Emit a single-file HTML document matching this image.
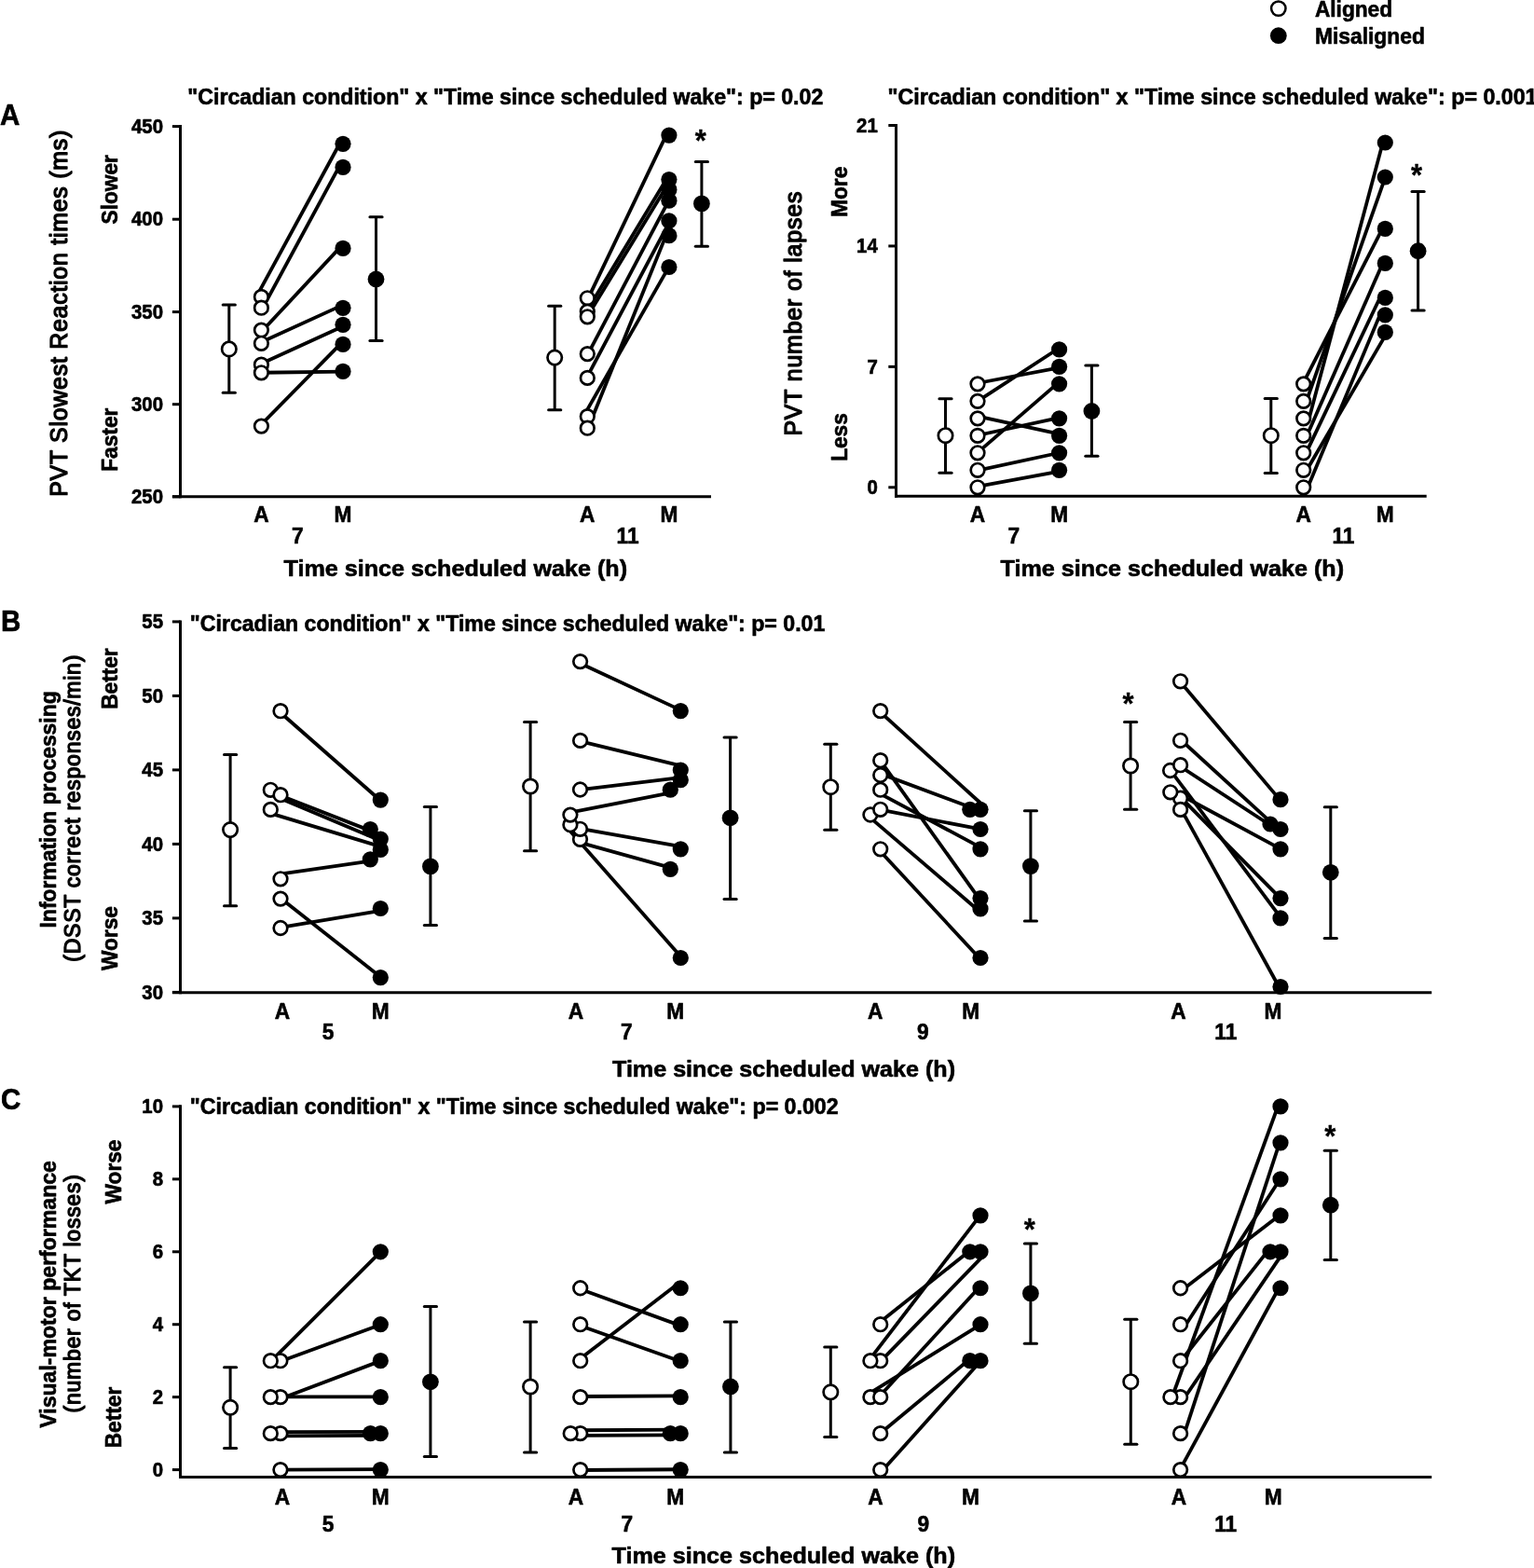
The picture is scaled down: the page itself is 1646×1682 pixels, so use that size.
<!DOCTYPE html>
<html lang="en">
<head>
<meta charset="utf-8">
<title>Figure: Circadian alignment and cognitive performance</title>
<style>
html,body{margin:0;padding:0;background:#fff;}
body{width:1646px;height:1682px;overflow:hidden;}
svg{display:block;}
svg text{font-family:"Liberation Sans",Arial,Helvetica,sans-serif;fill:#000;}
</style>
</head>
<body>
<svg xmlns="http://www.w3.org/2000/svg" width="1646" height="1682" viewBox="0 0 1646 1682" stroke="#000" fill="none">
<rect x="0" y="0" width="1646" height="1682" fill="#fff" stroke="none"/>
<circle cx="1371.8" cy="9.1" r="7.7" fill="#fff" stroke-width="2.5"/>
<circle cx="1371.8" cy="38.2" r="8.9" fill="#000" stroke="none"/>
<text transform="translate(1410.9 17.6) scale(1 1.06)" font-size="22.7" font-weight="bold" text-anchor="start" textLength="83.2" lengthAdjust="spacingAndGlyphs" stroke="#000" stroke-width="0.6" stroke-linejoin="round">Aligned</text>
<text transform="translate(1410.9 46.7) scale(1 1.06)" font-size="22.7" font-weight="bold" text-anchor="start" textLength="118" lengthAdjust="spacingAndGlyphs" stroke="#000" stroke-width="0.6" stroke-linejoin="round">Misaligned</text>
<text transform="translate(0 133.8) scale(1 1.06)" font-size="29.5" font-weight="bold" text-anchor="start" stroke="#000" stroke-width="0.6" stroke-linejoin="round">A</text>
<text transform="translate(201.3 111.6) scale(1 1.06)" font-size="22.7" font-weight="bold" text-anchor="start" textLength="682" lengthAdjust="spacingAndGlyphs" stroke="#000" stroke-width="0.6" stroke-linejoin="round">&quot;Circadian condition&quot; x &quot;Time since scheduled wake&quot;: p= 0.02</text>
<line x1="193.5" y1="134.1" x2="193.5" y2="534.3" stroke-width="3" stroke-linecap="butt"/>
<line x1="184.9" y1="532.8" x2="763" y2="532.8" stroke-width="3" stroke-linecap="butt"/>
<line x1="184.9" y1="135.6" x2="193.5" y2="135.6" stroke-width="3" stroke-linecap="butt"/>
<text transform="translate(175 142.8) scale(1 1.06)" font-size="20.4" font-weight="bold" text-anchor="end" stroke="#000" stroke-width="0.6" stroke-linejoin="round">450</text>
<line x1="184.9" y1="235.2" x2="193.5" y2="235.2" stroke-width="3" stroke-linecap="butt"/>
<text transform="translate(175 242.4) scale(1 1.06)" font-size="20.4" font-weight="bold" text-anchor="end" stroke="#000" stroke-width="0.6" stroke-linejoin="round">400</text>
<line x1="184.9" y1="334.6" x2="193.5" y2="334.6" stroke-width="3" stroke-linecap="butt"/>
<text transform="translate(175 341.8) scale(1 1.06)" font-size="20.4" font-weight="bold" text-anchor="end" stroke="#000" stroke-width="0.6" stroke-linejoin="round">350</text>
<line x1="184.9" y1="433.7" x2="193.5" y2="433.7" stroke-width="3" stroke-linecap="butt"/>
<text transform="translate(175 440.9) scale(1 1.06)" font-size="20.4" font-weight="bold" text-anchor="end" stroke="#000" stroke-width="0.6" stroke-linejoin="round">300</text>
<line x1="184.9" y1="532.8" x2="193.5" y2="532.8" stroke-width="3" stroke-linecap="butt"/>
<text transform="translate(175 540) scale(1 1.06)" font-size="20.4" font-weight="bold" text-anchor="end" stroke="#000" stroke-width="0.6" stroke-linejoin="round">250</text>
<text transform="translate(72.2 336.3) rotate(-90)" font-size="24.9" font-weight="normal" text-anchor="middle" textLength="393" lengthAdjust="spacing" stroke="#000" stroke-width="1.3" stroke-linejoin="round">PVT Slowest Reaction times (ms)</text>
<text transform="translate(126.2 203.3) rotate(-90) scale(1 1.06)" font-size="22.7" font-weight="bold" text-anchor="middle" stroke="#000" stroke-width="0.6" stroke-linejoin="round">Slower</text>
<text transform="translate(126.2 471.7) rotate(-90) scale(1 1.06)" font-size="22.7" font-weight="bold" text-anchor="middle" stroke="#000" stroke-width="0.6" stroke-linejoin="round">Faster</text>
<line x1="245.8" y1="327" x2="245.8" y2="421.2" stroke-width="3" stroke-linecap="butt"/>
<line x1="239.2" y1="327" x2="252.4" y2="327" stroke-width="3" stroke-linecap="round"/>
<line x1="239.2" y1="421.2" x2="252.4" y2="421.2" stroke-width="3" stroke-linecap="round"/>
<circle cx="245.8" cy="374.4" r="7.7" fill="#fff" stroke-width="2.7"/>
<line x1="403.5" y1="232.7" x2="403.5" y2="365.4" stroke-width="3" stroke-linecap="butt"/>
<line x1="396.9" y1="232.7" x2="410.1" y2="232.7" stroke-width="3" stroke-linecap="round"/>
<line x1="396.9" y1="365.4" x2="410.1" y2="365.4" stroke-width="3" stroke-linecap="round"/>
<circle cx="403.5" cy="299.5" r="8.9" fill="#000" stroke="none"/>
<line x1="276.31" y1="316.18" x2="365.2" y2="152.78" stroke-width="3.8" stroke-linecap="butt"/>
<line x1="281.61" y1="330.85" x2="364.56" y2="177.54" stroke-width="3.8" stroke-linecap="butt"/>
<line x1="281.35" y1="354.99" x2="365.87" y2="264.41" stroke-width="3.8" stroke-linecap="butt"/>
<line x1="279.88" y1="367.17" x2="366.78" y2="327.63" stroke-width="3.8" stroke-linecap="butt"/>
<line x1="279.97" y1="390.25" x2="368.66" y2="349.75" stroke-width="3.8" stroke-linecap="butt"/>
<line x1="280.4" y1="399.75" x2="368" y2="398.72" stroke-width="3.8" stroke-linecap="butt"/>
<line x1="279.51" y1="456.22" x2="366.43" y2="367.85" stroke-width="3.8" stroke-linecap="butt"/>
<circle cx="368" cy="154.3" r="8.6" fill="#000" stroke="none"/>
<circle cx="368" cy="179.4" r="8.6" fill="#000" stroke="none"/>
<circle cx="368" cy="266.4" r="8.6" fill="#000" stroke="none"/>
<circle cx="368" cy="330.3" r="8.6" fill="#000" stroke="none"/>
<circle cx="368" cy="348.3" r="8.6" fill="#000" stroke="none"/>
<circle cx="368" cy="369.4" r="8.6" fill="#000" stroke="none"/>
<circle cx="368" cy="398.4" r="8.6" fill="#000" stroke="none"/>
<circle cx="280.4" cy="318.4" r="7.3" fill="#fff" stroke-width="2.7"/>
<circle cx="280.4" cy="330.2" r="7.3" fill="#fff" stroke-width="2.7"/>
<circle cx="280.4" cy="354.1" r="7.3" fill="#fff" stroke-width="2.7"/>
<circle cx="280.4" cy="368.3" r="7.3" fill="#fff" stroke-width="2.7"/>
<circle cx="280.4" cy="391.2" r="7.3" fill="#fff" stroke-width="2.7"/>
<circle cx="280.4" cy="399.8" r="7.3" fill="#fff" stroke-width="2.7"/>
<circle cx="280.4" cy="457.1" r="7.3" fill="#fff" stroke-width="2.7"/>
<line x1="595.2" y1="328.3" x2="595.2" y2="439.7" stroke-width="3" stroke-linecap="butt"/>
<line x1="588.6" y1="328.3" x2="601.8" y2="328.3" stroke-width="3" stroke-linecap="round"/>
<line x1="588.6" y1="439.7" x2="601.8" y2="439.7" stroke-width="3" stroke-linecap="round"/>
<circle cx="595.2" cy="383.6" r="7.7" fill="#fff" stroke-width="2.7"/>
<line x1="752.9" y1="173.6" x2="752.9" y2="264.2" stroke-width="3" stroke-linecap="butt"/>
<line x1="746.3" y1="173.6" x2="759.5" y2="173.6" stroke-width="3" stroke-linecap="round"/>
<line x1="746.3" y1="264.2" x2="759.5" y2="264.2" stroke-width="3" stroke-linecap="round"/>
<circle cx="752.9" cy="218.4" r="8.9" fill="#000" stroke="none"/>
<line x1="631.06" y1="320.16" x2="715.39" y2="143.9" stroke-width="3.8" stroke-linecap="butt"/>
<line x1="629.59" y1="333.67" x2="715.71" y2="191.28" stroke-width="3.8" stroke-linecap="butt"/>
<line x1="630.04" y1="339.64" x2="714.47" y2="201.31" stroke-width="3.8" stroke-linecap="butt"/>
<line x1="630.85" y1="379.89" x2="717.61" y2="215.05" stroke-width="3.8" stroke-linecap="butt"/>
<line x1="629.59" y1="405.02" x2="718.71" y2="237.33" stroke-width="3.8" stroke-linecap="butt"/>
<line x1="627.07" y1="444.85" x2="717.71" y2="286.39" stroke-width="3.8" stroke-linecap="butt"/>
<line x1="630.92" y1="459.45" x2="715.04" y2="251.54" stroke-width="3.8" stroke-linecap="butt"/>
<circle cx="717.9" cy="145.1" r="8.6" fill="#000" stroke="none"/>
<circle cx="717.9" cy="192.6" r="8.6" fill="#000" stroke="none"/>
<circle cx="717.9" cy="203.4" r="8.6" fill="#000" stroke="none"/>
<circle cx="717.9" cy="215.2" r="8.6" fill="#000" stroke="none"/>
<circle cx="717.9" cy="236.9" r="8.6" fill="#000" stroke="none"/>
<circle cx="717.9" cy="252.7" r="8.6" fill="#000" stroke="none"/>
<circle cx="717.9" cy="286.5" r="8.6" fill="#000" stroke="none"/>
<circle cx="630.3" cy="319.8" r="7.3" fill="#fff" stroke-width="2.7"/>
<circle cx="630.3" cy="334.1" r="7.3" fill="#fff" stroke-width="2.7"/>
<circle cx="630.3" cy="339.8" r="7.3" fill="#fff" stroke-width="2.7"/>
<circle cx="630.3" cy="379.6" r="7.3" fill="#fff" stroke-width="2.7"/>
<circle cx="630.3" cy="405.4" r="7.3" fill="#fff" stroke-width="2.7"/>
<circle cx="630.3" cy="446.7" r="7.3" fill="#fff" stroke-width="2.7"/>
<circle cx="630.3" cy="459.2" r="7.3" fill="#fff" stroke-width="2.7"/>
<text transform="translate(751.7 162) scale(1 1.06)" font-size="31" font-weight="bold" text-anchor="middle" stroke="#000" stroke-width="0.3" stroke-linejoin="round">*</text>
<text transform="translate(280.5 559.5) scale(1 1.06)" font-size="22.7" font-weight="bold" text-anchor="middle" stroke="#000" stroke-width="0.6" stroke-linejoin="round">A</text>
<text transform="translate(368 559.5) scale(1 1.06)" font-size="22.7" font-weight="bold" text-anchor="middle" stroke="#000" stroke-width="0.6" stroke-linejoin="round">M</text>
<text transform="translate(630.3 559.5) scale(1 1.06)" font-size="22.7" font-weight="bold" text-anchor="middle" stroke="#000" stroke-width="0.6" stroke-linejoin="round">A</text>
<text transform="translate(717.9 559.5) scale(1 1.06)" font-size="22.7" font-weight="bold" text-anchor="middle" stroke="#000" stroke-width="0.6" stroke-linejoin="round">M</text>
<text transform="translate(319.2 582.9) scale(1 1.06)" font-size="22.7" font-weight="bold" text-anchor="middle" stroke="#000" stroke-width="0.6" stroke-linejoin="round">7</text>
<text transform="translate(673.6 582.9) scale(1 1.06)" font-size="22.7" font-weight="bold" text-anchor="middle" stroke="#000" stroke-width="0.6" stroke-linejoin="round">11</text>
<text transform="translate(488.8 617.9) scale(1 1.06)" font-size="23.4" font-weight="bold" text-anchor="middle" textLength="368.5" lengthAdjust="spacingAndGlyphs" stroke="#000" stroke-width="0.6" stroke-linejoin="round">Time since scheduled wake (h)</text>
<text transform="translate(952.5 111.6) scale(1 1.06)" font-size="22.7" font-weight="bold" text-anchor="start" textLength="697" lengthAdjust="spacingAndGlyphs" stroke="#000" stroke-width="0.6" stroke-linejoin="round">&quot;Circadian condition&quot; x &quot;Time since scheduled wake&quot;: p= 0.001</text>
<line x1="961.5" y1="133.1" x2="961.5" y2="533.8" stroke-width="3" stroke-linecap="butt"/>
<line x1="960" y1="532.3" x2="1530.7" y2="532.3" stroke-width="3" stroke-linecap="butt"/>
<line x1="953.3" y1="134.51" x2="961.5" y2="134.51" stroke-width="3" stroke-linecap="butt"/>
<text transform="translate(941.8 141.71) scale(1 1.06)" font-size="20.4" font-weight="bold" text-anchor="end" stroke="#000" stroke-width="0.6" stroke-linejoin="round">21</text>
<line x1="953.3" y1="263.94" x2="961.5" y2="263.94" stroke-width="3" stroke-linecap="butt"/>
<text transform="translate(941.8 271.14) scale(1 1.06)" font-size="20.4" font-weight="bold" text-anchor="end" stroke="#000" stroke-width="0.6" stroke-linejoin="round">14</text>
<line x1="953.3" y1="393.37" x2="961.5" y2="393.37" stroke-width="3" stroke-linecap="butt"/>
<text transform="translate(941.8 400.57) scale(1 1.06)" font-size="20.4" font-weight="bold" text-anchor="end" stroke="#000" stroke-width="0.6" stroke-linejoin="round">7</text>
<line x1="953.3" y1="522.8" x2="961.5" y2="522.8" stroke-width="3" stroke-linecap="butt"/>
<text transform="translate(941.8 530) scale(1 1.06)" font-size="20.4" font-weight="bold" text-anchor="end" stroke="#000" stroke-width="0.6" stroke-linejoin="round">0</text>
<text transform="translate(859.9 336.6) rotate(-90)" font-size="24.9" font-weight="normal" text-anchor="middle" textLength="262" lengthAdjust="spacing" stroke="#000" stroke-width="1.3" stroke-linejoin="round">PVT number of lapses</text>
<text transform="translate(909.4 205.8) rotate(-90) scale(1 1.06)" font-size="22.7" font-weight="bold" text-anchor="middle" stroke="#000" stroke-width="0.6" stroke-linejoin="round">More</text>
<text transform="translate(909.4 469) rotate(-90) scale(1 1.06)" font-size="22.7" font-weight="bold" text-anchor="middle" stroke="#000" stroke-width="0.6" stroke-linejoin="round">Less</text>
<line x1="1014.5" y1="427.7" x2="1014.5" y2="507.3" stroke-width="3" stroke-linecap="butt"/>
<line x1="1007.9" y1="427.7" x2="1021.1" y2="427.7" stroke-width="3" stroke-linecap="round"/>
<line x1="1007.9" y1="507.3" x2="1021.1" y2="507.3" stroke-width="3" stroke-linecap="round"/>
<circle cx="1014.5" cy="467.2" r="7.7" fill="#fff" stroke-width="2.7"/>
<line x1="1171.4" y1="392.1" x2="1171.4" y2="489.3" stroke-width="3" stroke-linecap="butt"/>
<line x1="1164.8" y1="392.1" x2="1178" y2="392.1" stroke-width="3" stroke-linecap="round"/>
<line x1="1164.8" y1="489.3" x2="1178" y2="489.3" stroke-width="3" stroke-linecap="round"/>
<circle cx="1171.4" cy="441" r="8.9" fill="#000" stroke="none"/>
<line x1="1048.84" y1="411" x2="1136.78" y2="394.29" stroke-width="3.8" stroke-linecap="butt"/>
<line x1="1049.01" y1="430.37" x2="1135.87" y2="373.76" stroke-width="3.8" stroke-linecap="butt"/>
<line x1="1049.46" y1="446.7" x2="1136.99" y2="465.52" stroke-width="3.8" stroke-linecap="butt"/>
<line x1="1048.93" y1="467.01" x2="1136.46" y2="448.19" stroke-width="3.8" stroke-linecap="butt"/>
<line x1="1048.81" y1="485.61" x2="1135.52" y2="410.61" stroke-width="3.8" stroke-linecap="butt"/>
<line x1="1049.06" y1="504.58" x2="1136.59" y2="485.76" stroke-width="3.8" stroke-linecap="butt"/>
<line x1="1048.82" y1="521.82" x2="1136.85" y2="505.68" stroke-width="3.8" stroke-linecap="butt"/>
<circle cx="1136.6" cy="374.88" r="8.6" fill="#000" stroke="none"/>
<circle cx="1136.6" cy="393.37" r="8.6" fill="#000" stroke="none"/>
<circle cx="1136.6" cy="411.86" r="8.6" fill="#000" stroke="none"/>
<circle cx="1136.6" cy="448.84" r="8.6" fill="#000" stroke="none"/>
<circle cx="1136.6" cy="467.33" r="8.6" fill="#000" stroke="none"/>
<circle cx="1136.6" cy="485.82" r="8.6" fill="#000" stroke="none"/>
<circle cx="1136.6" cy="504.31" r="8.6" fill="#000" stroke="none"/>
<circle cx="1049" cy="411.86" r="7.3" fill="#fff" stroke-width="2.7"/>
<circle cx="1049" cy="430.35" r="7.3" fill="#fff" stroke-width="2.7"/>
<circle cx="1049" cy="448.84" r="7.3" fill="#fff" stroke-width="2.7"/>
<circle cx="1049" cy="467.33" r="7.3" fill="#fff" stroke-width="2.7"/>
<circle cx="1049" cy="485.82" r="7.3" fill="#fff" stroke-width="2.7"/>
<circle cx="1049" cy="504.31" r="7.3" fill="#fff" stroke-width="2.7"/>
<circle cx="1049" cy="522.8" r="7.3" fill="#fff" stroke-width="2.7"/>
<line x1="1363.8" y1="427.4" x2="1363.8" y2="507.5" stroke-width="3" stroke-linecap="butt"/>
<line x1="1357.2" y1="427.4" x2="1370.4" y2="427.4" stroke-width="3" stroke-linecap="round"/>
<line x1="1357.2" y1="507.5" x2="1370.4" y2="507.5" stroke-width="3" stroke-linecap="round"/>
<circle cx="1363.8" cy="467.2" r="7.7" fill="#fff" stroke-width="2.7"/>
<line x1="1521.6" y1="205.6" x2="1521.6" y2="332.9" stroke-width="3" stroke-linecap="butt"/>
<line x1="1515" y1="205.6" x2="1528.2" y2="205.6" stroke-width="3" stroke-linecap="round"/>
<line x1="1515" y1="332.9" x2="1528.2" y2="332.9" stroke-width="3" stroke-linecap="round"/>
<circle cx="1521.6" cy="269.2" r="8.9" fill="#000" stroke="none"/>
<line x1="1398.03" y1="411.52" x2="1483.9" y2="244.22" stroke-width="3.8" stroke-linecap="butt"/>
<line x1="1401.46" y1="431.32" x2="1486.43" y2="190.03" stroke-width="3.8" stroke-linecap="butt"/>
<line x1="1404.27" y1="450.33" x2="1483.93" y2="152.37" stroke-width="3.8" stroke-linecap="butt"/>
<line x1="1401.69" y1="468.64" x2="1484.04" y2="281.43" stroke-width="3.8" stroke-linecap="butt"/>
<line x1="1400.96" y1="486.9" x2="1481.7" y2="317.22" stroke-width="3.8" stroke-linecap="butt"/>
<line x1="1401.3" y1="505.83" x2="1487.96" y2="357.36" stroke-width="3.8" stroke-linecap="butt"/>
<line x1="1402.53" y1="524.41" x2="1481.47" y2="335.88" stroke-width="3.8" stroke-linecap="butt"/>
<circle cx="1486.3" cy="153" r="8.6" fill="#000" stroke="none"/>
<circle cx="1486.3" cy="189.98" r="8.6" fill="#000" stroke="none"/>
<circle cx="1486.3" cy="245.45" r="8.6" fill="#000" stroke="none"/>
<circle cx="1486.3" cy="282.43" r="8.6" fill="#000" stroke="none"/>
<circle cx="1486.3" cy="319.41" r="8.6" fill="#000" stroke="none"/>
<circle cx="1486.3" cy="337.9" r="8.6" fill="#000" stroke="none"/>
<circle cx="1486.3" cy="356.39" r="8.6" fill="#000" stroke="none"/>
<circle cx="1398.7" cy="411.86" r="7.3" fill="#fff" stroke-width="2.7"/>
<circle cx="1398.7" cy="430.35" r="7.3" fill="#fff" stroke-width="2.7"/>
<circle cx="1398.7" cy="448.84" r="7.3" fill="#fff" stroke-width="2.7"/>
<circle cx="1398.7" cy="467.33" r="7.3" fill="#fff" stroke-width="2.7"/>
<circle cx="1398.7" cy="485.82" r="7.3" fill="#fff" stroke-width="2.7"/>
<circle cx="1398.7" cy="504.31" r="7.3" fill="#fff" stroke-width="2.7"/>
<circle cx="1398.7" cy="522.8" r="7.3" fill="#fff" stroke-width="2.7"/>
<text transform="translate(1520.1 199) scale(1 1.06)" font-size="31" font-weight="bold" text-anchor="middle" stroke="#000" stroke-width="0.3" stroke-linejoin="round">*</text>
<text transform="translate(1049 559.5) scale(1 1.06)" font-size="22.7" font-weight="bold" text-anchor="middle" stroke="#000" stroke-width="0.6" stroke-linejoin="round">A</text>
<text transform="translate(1136.6 559.5) scale(1 1.06)" font-size="22.7" font-weight="bold" text-anchor="middle" stroke="#000" stroke-width="0.6" stroke-linejoin="round">M</text>
<text transform="translate(1398.7 559.5) scale(1 1.06)" font-size="22.7" font-weight="bold" text-anchor="middle" stroke="#000" stroke-width="0.6" stroke-linejoin="round">A</text>
<text transform="translate(1486.3 559.5) scale(1 1.06)" font-size="22.7" font-weight="bold" text-anchor="middle" stroke="#000" stroke-width="0.6" stroke-linejoin="round">M</text>
<text transform="translate(1087.8 582.9) scale(1 1.06)" font-size="22.7" font-weight="bold" text-anchor="middle" stroke="#000" stroke-width="0.6" stroke-linejoin="round">7</text>
<text transform="translate(1441.5 582.9) scale(1 1.06)" font-size="22.7" font-weight="bold" text-anchor="middle" stroke="#000" stroke-width="0.6" stroke-linejoin="round">11</text>
<text transform="translate(1257.8 617.9) scale(1 1.06)" font-size="23.4" font-weight="bold" text-anchor="middle" textLength="368.5" lengthAdjust="spacingAndGlyphs" stroke="#000" stroke-width="0.6" stroke-linejoin="round">Time since scheduled wake (h)</text>
<text transform="translate(1 677) scale(1 1.06)" font-size="29.5" font-weight="bold" text-anchor="start" stroke="#000" stroke-width="0.6" stroke-linejoin="round">B</text>
<text transform="translate(203.8 677) scale(1 1.06)" font-size="22.7" font-weight="bold" text-anchor="start" textLength="681.5" lengthAdjust="spacingAndGlyphs" stroke="#000" stroke-width="0.6" stroke-linejoin="round">&quot;Circadian condition&quot; x &quot;Time since scheduled wake&quot;: p= 0.01</text>
<line x1="193.5" y1="665.5" x2="193.5" y2="1066.2" stroke-width="3" stroke-linecap="butt"/>
<line x1="184.9" y1="1064.7" x2="1536.2" y2="1064.7" stroke-width="3" stroke-linecap="butt"/>
<line x1="184.9" y1="666.9" x2="193.5" y2="666.9" stroke-width="3" stroke-linecap="butt"/>
<text transform="translate(175 674.1) scale(1 1.06)" font-size="20.4" font-weight="bold" text-anchor="end" stroke="#000" stroke-width="0.6" stroke-linejoin="round">55</text>
<line x1="184.9" y1="746.4" x2="193.5" y2="746.4" stroke-width="3" stroke-linecap="butt"/>
<text transform="translate(175 753.6) scale(1 1.06)" font-size="20.4" font-weight="bold" text-anchor="end" stroke="#000" stroke-width="0.6" stroke-linejoin="round">50</text>
<line x1="184.9" y1="825.9" x2="193.5" y2="825.9" stroke-width="3" stroke-linecap="butt"/>
<text transform="translate(175 833.1) scale(1 1.06)" font-size="20.4" font-weight="bold" text-anchor="end" stroke="#000" stroke-width="0.6" stroke-linejoin="round">45</text>
<line x1="184.9" y1="905.4" x2="193.5" y2="905.4" stroke-width="3" stroke-linecap="butt"/>
<text transform="translate(175 912.6) scale(1 1.06)" font-size="20.4" font-weight="bold" text-anchor="end" stroke="#000" stroke-width="0.6" stroke-linejoin="round">40</text>
<line x1="184.9" y1="984.9" x2="193.5" y2="984.9" stroke-width="3" stroke-linecap="butt"/>
<text transform="translate(175 992.1) scale(1 1.06)" font-size="20.4" font-weight="bold" text-anchor="end" stroke="#000" stroke-width="0.6" stroke-linejoin="round">35</text>
<line x1="184.9" y1="1064.4" x2="193.5" y2="1064.4" stroke-width="3" stroke-linecap="butt"/>
<text transform="translate(175 1071.6) scale(1 1.06)" font-size="20.4" font-weight="bold" text-anchor="end" stroke="#000" stroke-width="0.6" stroke-linejoin="round">30</text>
<text transform="translate(60 868.4) rotate(-90) scale(1 1.06)" font-size="22.9" font-weight="bold" text-anchor="middle" textLength="254" lengthAdjust="spacingAndGlyphs" stroke="#000" stroke-width="0.6" stroke-linejoin="round">Information processing</text>
<text transform="translate(86.2 867.2) rotate(-90)" font-size="23" font-weight="normal" text-anchor="middle" textLength="329" lengthAdjust="spacing" stroke="#000" stroke-width="1.3" stroke-linejoin="round">(DSST correct responses/min)</text>
<text transform="translate(126.4 728.1) rotate(-90) scale(1 1.06)" font-size="22.7" font-weight="bold" text-anchor="middle" stroke="#000" stroke-width="0.6" stroke-linejoin="round">Better</text>
<text transform="translate(126.4 1006.5) rotate(-90) scale(1 1.06)" font-size="22.7" font-weight="bold" text-anchor="middle" stroke="#000" stroke-width="0.6" stroke-linejoin="round">Worse</text>
<line x1="247.1" y1="809.5" x2="247.1" y2="971.7" stroke-width="3" stroke-linecap="butt"/>
<line x1="240.5" y1="809.5" x2="253.7" y2="809.5" stroke-width="3" stroke-linecap="round"/>
<line x1="240.5" y1="971.7" x2="253.7" y2="971.7" stroke-width="3" stroke-linecap="round"/>
<circle cx="247.1" cy="890.1" r="7.7" fill="#fff" stroke-width="2.7"/>
<line x1="461.9" y1="865.6" x2="461.9" y2="992.5" stroke-width="3" stroke-linecap="butt"/>
<line x1="455.3" y1="865.6" x2="468.5" y2="865.6" stroke-width="3" stroke-linecap="round"/>
<line x1="455.3" y1="992.5" x2="468.5" y2="992.5" stroke-width="3" stroke-linecap="round"/>
<circle cx="461.9" cy="929.4" r="8.9" fill="#000" stroke="none"/>
<line x1="300.12" y1="763.7" x2="407.98" y2="858.47" stroke-width="3.8" stroke-linecap="butt"/>
<line x1="289.6" y1="849.09" x2="396.8" y2="890.89" stroke-width="3.8" stroke-linecap="butt"/>
<line x1="299.63" y1="855.96" x2="407.76" y2="901.38" stroke-width="3.8" stroke-linecap="butt"/>
<line x1="289.18" y1="872.12" x2="409.23" y2="908.31" stroke-width="3.8" stroke-linecap="butt"/>
<line x1="300.26" y1="937.68" x2="397.55" y2="923.64" stroke-width="3.8" stroke-linecap="butt"/>
<line x1="301.37" y1="963.64" x2="408.61" y2="1048.21" stroke-width="3.8" stroke-linecap="butt"/>
<line x1="300.88" y1="994.77" x2="408.7" y2="976.91" stroke-width="3.8" stroke-linecap="butt"/>
<circle cx="408.3" cy="858.1" r="8.6" fill="#000" stroke="none"/>
<circle cx="408.3" cy="900.1" r="8.6" fill="#000" stroke="none"/>
<circle cx="408.3" cy="911.4" r="8.6" fill="#000" stroke="none"/>
<circle cx="408.3" cy="974.5" r="8.6" fill="#000" stroke="none"/>
<circle cx="408.3" cy="1048.6" r="8.6" fill="#000" stroke="none"/>
<circle cx="397.3" cy="889.6" r="8.6" fill="#000" stroke="none"/>
<circle cx="397.3" cy="921.9" r="8.6" fill="#000" stroke="none"/>
<circle cx="301" cy="762.7" r="7.3" fill="#fff" stroke-width="2.7"/>
<circle cx="301" cy="942.8" r="7.3" fill="#fff" stroke-width="2.7"/>
<circle cx="301" cy="964.1" r="7.3" fill="#fff" stroke-width="2.7"/>
<circle cx="301" cy="995.5" r="7.3" fill="#fff" stroke-width="2.7"/>
<circle cx="290.3" cy="847.3" r="7.3" fill="#fff" stroke-width="2.7"/>
<circle cx="301" cy="852.7" r="7.3" fill="#fff" stroke-width="2.7"/>
<circle cx="290.3" cy="868.4" r="7.3" fill="#fff" stroke-width="2.7"/>
<line x1="569.1" y1="774.6" x2="569.1" y2="912.8" stroke-width="3" stroke-linecap="butt"/>
<line x1="562.5" y1="774.6" x2="575.7" y2="774.6" stroke-width="3" stroke-linecap="round"/>
<line x1="562.5" y1="912.8" x2="575.7" y2="912.8" stroke-width="3" stroke-linecap="round"/>
<circle cx="569.1" cy="843.5" r="7.7" fill="#fff" stroke-width="2.7"/>
<line x1="783.6" y1="790.9" x2="783.6" y2="964.4" stroke-width="3" stroke-linecap="butt"/>
<line x1="777" y1="790.9" x2="790.2" y2="790.9" stroke-width="3" stroke-linecap="round"/>
<line x1="777" y1="964.4" x2="790.2" y2="964.4" stroke-width="3" stroke-linecap="round"/>
<circle cx="783.6" cy="877.3" r="8.9" fill="#000" stroke="none"/>
<line x1="621.85" y1="711.21" x2="730.64" y2="761.87" stroke-width="3.8" stroke-linecap="butt"/>
<line x1="622.4" y1="795.22" x2="731.38" y2="821.53" stroke-width="3.8" stroke-linecap="butt"/>
<line x1="622.51" y1="847.12" x2="730" y2="834.22" stroke-width="3.8" stroke-linecap="butt"/>
<line x1="611.43" y1="871.71" x2="719.94" y2="850.47" stroke-width="3.8" stroke-linecap="butt"/>
<line x1="608.45" y1="887.75" x2="731.06" y2="1026.83" stroke-width="3.8" stroke-linecap="butt"/>
<line x1="622.59" y1="888.81" x2="730.78" y2="908.12" stroke-width="3.8" stroke-linecap="butt"/>
<line x1="621.58" y1="903.6" x2="719.72" y2="930.8" stroke-width="3.8" stroke-linecap="butt"/>
<circle cx="730.3" cy="762.6" r="8.6" fill="#000" stroke="none"/>
<circle cx="730.3" cy="826" r="8.6" fill="#000" stroke="none"/>
<circle cx="730.3" cy="836.7" r="8.6" fill="#000" stroke="none"/>
<circle cx="730.3" cy="910.8" r="8.6" fill="#000" stroke="none"/>
<circle cx="730.3" cy="1027.5" r="8.6" fill="#000" stroke="none"/>
<circle cx="719.3" cy="847.2" r="8.6" fill="#000" stroke="none"/>
<circle cx="719.3" cy="932.3" r="8.6" fill="#000" stroke="none"/>
<circle cx="622.6" cy="709.6" r="7.3" fill="#fff" stroke-width="2.7"/>
<circle cx="622.6" cy="794.4" r="7.3" fill="#fff" stroke-width="2.7"/>
<circle cx="622.5" cy="847" r="7.3" fill="#fff" stroke-width="2.7"/>
<circle cx="622.5" cy="900.3" r="7.3" fill="#fff" stroke-width="2.7"/>
<circle cx="622.5" cy="889.3" r="7.3" fill="#fff" stroke-width="2.7"/>
<circle cx="611.9" cy="884.7" r="7.3" fill="#fff" stroke-width="2.7"/>
<circle cx="611.9" cy="874.1" r="7.3" fill="#fff" stroke-width="2.7"/>
<line x1="891.3" y1="798.2" x2="891.3" y2="890.3" stroke-width="3" stroke-linecap="butt"/>
<line x1="884.7" y1="798.2" x2="897.9" y2="798.2" stroke-width="3" stroke-linecap="round"/>
<line x1="884.7" y1="890.3" x2="897.9" y2="890.3" stroke-width="3" stroke-linecap="round"/>
<circle cx="891.3" cy="844.2" r="7.7" fill="#fff" stroke-width="2.7"/>
<line x1="1105.9" y1="869.8" x2="1105.9" y2="987.9" stroke-width="3" stroke-linecap="butt"/>
<line x1="1099.3" y1="869.8" x2="1112.5" y2="869.8" stroke-width="3" stroke-linecap="round"/>
<line x1="1099.3" y1="987.9" x2="1112.5" y2="987.9" stroke-width="3" stroke-linecap="round"/>
<circle cx="1105.9" cy="929.1" r="8.9" fill="#000" stroke="none"/>
<line x1="943.99" y1="763.39" x2="1055.45" y2="864.5" stroke-width="3.8" stroke-linecap="butt"/>
<line x1="944.61" y1="815.77" x2="1050.88" y2="964.4" stroke-width="3.8" stroke-linecap="butt"/>
<line x1="945.21" y1="830.13" x2="1041.63" y2="866.08" stroke-width="3.8" stroke-linecap="butt"/>
<line x1="942.87" y1="850.62" x2="1052.78" y2="909.34" stroke-width="3.8" stroke-linecap="butt"/>
<line x1="944.64" y1="868.6" x2="1052.01" y2="889.46" stroke-width="3.8" stroke-linecap="butt"/>
<line x1="932.3" y1="875.87" x2="1050.24" y2="976.96" stroke-width="3.8" stroke-linecap="butt"/>
<line x1="943.42" y1="911.99" x2="1051.28" y2="1028.17" stroke-width="3.8" stroke-linecap="butt"/>
<circle cx="1052" cy="868.3" r="8.6" fill="#000" stroke="none"/>
<circle cx="1052" cy="889.5" r="8.6" fill="#000" stroke="none"/>
<circle cx="1052" cy="910.8" r="8.6" fill="#000" stroke="none"/>
<circle cx="1052" cy="963.6" r="8.6" fill="#000" stroke="none"/>
<circle cx="1052" cy="974.9" r="8.6" fill="#000" stroke="none"/>
<circle cx="1052" cy="1027.5" r="8.6" fill="#000" stroke="none"/>
<circle cx="1040.8" cy="868.3" r="8.6" fill="#000" stroke="none"/>
<circle cx="944.7" cy="910.8" r="7.3" fill="#fff" stroke-width="2.7"/>
<circle cx="944.7" cy="847.2" r="7.3" fill="#fff" stroke-width="2.7"/>
<circle cx="944.7" cy="831.5" r="7.3" fill="#fff" stroke-width="2.7"/>
<circle cx="944.7" cy="815.7" r="7.3" fill="#fff" stroke-width="2.7"/>
<circle cx="944.7" cy="762.6" r="7.3" fill="#fff" stroke-width="2.7"/>
<circle cx="933.9" cy="874" r="7.3" fill="#fff" stroke-width="2.7"/>
<circle cx="944.7" cy="868.3" r="7.3" fill="#fff" stroke-width="2.7"/>
<line x1="1213.1" y1="774.4" x2="1213.1" y2="868.3" stroke-width="3" stroke-linecap="butt"/>
<line x1="1206.5" y1="774.4" x2="1219.7" y2="774.4" stroke-width="3" stroke-linecap="round"/>
<line x1="1206.5" y1="868.3" x2="1219.7" y2="868.3" stroke-width="3" stroke-linecap="round"/>
<circle cx="1213.1" cy="821.5" r="7.7" fill="#fff" stroke-width="2.7"/>
<line x1="1427.8" y1="865.8" x2="1427.8" y2="1006.4" stroke-width="3" stroke-linecap="butt"/>
<line x1="1421.2" y1="865.8" x2="1434.4" y2="865.8" stroke-width="3" stroke-linecap="round"/>
<line x1="1421.2" y1="1006.4" x2="1434.4" y2="1006.4" stroke-width="3" stroke-linecap="round"/>
<circle cx="1427.8" cy="935.8" r="8.9" fill="#000" stroke="none"/>
<line x1="1266.18" y1="731.15" x2="1373.51" y2="858.11" stroke-width="3.8" stroke-linecap="butt"/>
<line x1="1267.12" y1="793.73" x2="1364.3" y2="882.58" stroke-width="3.8" stroke-linecap="butt"/>
<line x1="1265.84" y1="821.87" x2="1372.7" y2="891.49" stroke-width="3.8" stroke-linecap="butt"/>
<line x1="1255.87" y1="826.3" x2="1374.47" y2="984.55" stroke-width="3.8" stroke-linecap="butt"/>
<line x1="1257.02" y1="847.53" x2="1374.11" y2="910.59" stroke-width="3.8" stroke-linecap="butt"/>
<line x1="1267.19" y1="855.62" x2="1373.9" y2="963.7" stroke-width="3.8" stroke-linecap="butt"/>
<line x1="1267.32" y1="868" x2="1372.71" y2="1059.21" stroke-width="3.8" stroke-linecap="butt"/>
<circle cx="1374" cy="857.7" r="8.6" fill="#000" stroke="none"/>
<circle cx="1374" cy="889.5" r="8.6" fill="#000" stroke="none"/>
<circle cx="1374" cy="910.8" r="8.6" fill="#000" stroke="none"/>
<circle cx="1374" cy="963.6" r="8.6" fill="#000" stroke="none"/>
<circle cx="1374" cy="984.9" r="8.6" fill="#000" stroke="none"/>
<circle cx="1374" cy="1058.5" r="8.6" fill="#000" stroke="none"/>
<circle cx="1363" cy="884" r="8.6" fill="#000" stroke="none"/>
<circle cx="1266.6" cy="730.8" r="7.3" fill="#fff" stroke-width="2.7"/>
<circle cx="1266.6" cy="794.3" r="7.3" fill="#fff" stroke-width="2.7"/>
<circle cx="1266.6" cy="856.2" r="7.3" fill="#fff" stroke-width="2.7"/>
<circle cx="1255.6" cy="826.5" r="7.3" fill="#fff" stroke-width="2.7"/>
<circle cx="1266.6" cy="820.7" r="7.3" fill="#fff" stroke-width="2.7"/>
<circle cx="1255.8" cy="849.8" r="7.3" fill="#fff" stroke-width="2.7"/>
<circle cx="1266.6" cy="868.4" r="7.3" fill="#fff" stroke-width="2.7"/>
<text transform="translate(1210.6 766) scale(1 1.06)" font-size="31" font-weight="bold" text-anchor="middle" stroke="#000" stroke-width="0.3" stroke-linejoin="round">*</text>
<text transform="translate(303 1093) scale(1 1.06)" font-size="22.7" font-weight="bold" text-anchor="middle" stroke="#000" stroke-width="0.6" stroke-linejoin="round">A</text>
<text transform="translate(408.3 1093) scale(1 1.06)" font-size="22.7" font-weight="bold" text-anchor="middle" stroke="#000" stroke-width="0.6" stroke-linejoin="round">M</text>
<text transform="translate(618 1093) scale(1 1.06)" font-size="22.7" font-weight="bold" text-anchor="middle" stroke="#000" stroke-width="0.6" stroke-linejoin="round">A</text>
<text transform="translate(724.6 1093) scale(1 1.06)" font-size="22.7" font-weight="bold" text-anchor="middle" stroke="#000" stroke-width="0.6" stroke-linejoin="round">M</text>
<text transform="translate(939.2 1093) scale(1 1.06)" font-size="22.7" font-weight="bold" text-anchor="middle" stroke="#000" stroke-width="0.6" stroke-linejoin="round">A</text>
<text transform="translate(1041.6 1093) scale(1 1.06)" font-size="22.7" font-weight="bold" text-anchor="middle" stroke="#000" stroke-width="0.6" stroke-linejoin="round">M</text>
<text transform="translate(1264.5 1093) scale(1 1.06)" font-size="22.7" font-weight="bold" text-anchor="middle" stroke="#000" stroke-width="0.6" stroke-linejoin="round">A</text>
<text transform="translate(1366 1093) scale(1 1.06)" font-size="22.7" font-weight="bold" text-anchor="middle" stroke="#000" stroke-width="0.6" stroke-linejoin="round">M</text>
<text transform="translate(352 1115.4) scale(1 1.06)" font-size="22.7" font-weight="bold" text-anchor="middle" stroke="#000" stroke-width="0.6" stroke-linejoin="round">5</text>
<text transform="translate(672.4 1115.4) scale(1 1.06)" font-size="22.7" font-weight="bold" text-anchor="middle" stroke="#000" stroke-width="0.6" stroke-linejoin="round">7</text>
<text transform="translate(990.3 1115.4) scale(1 1.06)" font-size="22.7" font-weight="bold" text-anchor="middle" stroke="#000" stroke-width="0.6" stroke-linejoin="round">9</text>
<text transform="translate(1315.3 1115.4) scale(1 1.06)" font-size="22.7" font-weight="bold" text-anchor="middle" stroke="#000" stroke-width="0.6" stroke-linejoin="round">11</text>
<text transform="translate(841 1154.5) scale(1 1.06)" font-size="23.4" font-weight="bold" text-anchor="middle" textLength="368" lengthAdjust="spacingAndGlyphs" stroke="#000" stroke-width="0.6" stroke-linejoin="round">Time since scheduled wake (h)</text>
<text transform="translate(1 1189.5) scale(1 1.06)" font-size="29.5" font-weight="bold" text-anchor="start" stroke="#000" stroke-width="0.6" stroke-linejoin="round">C</text>
<text transform="translate(203.8 1195.4) scale(1 1.06)" font-size="22.7" font-weight="bold" text-anchor="start" textLength="695.8" lengthAdjust="spacingAndGlyphs" stroke="#000" stroke-width="0.6" stroke-linejoin="round">&quot;Circadian condition&quot; x &quot;Time since scheduled wake&quot;: p= 0.002</text>
<line x1="193.5" y1="1185.3" x2="193.5" y2="1585.9" stroke-width="3" stroke-linecap="butt"/>
<line x1="192" y1="1584.4" x2="1536.2" y2="1584.4" stroke-width="3" stroke-linecap="butt"/>
<line x1="184.9" y1="1186.9" x2="193.5" y2="1186.9" stroke-width="3" stroke-linecap="butt"/>
<text transform="translate(175 1194.1) scale(1 1.06)" font-size="20.4" font-weight="bold" text-anchor="end" stroke="#000" stroke-width="0.6" stroke-linejoin="round">10</text>
<line x1="184.9" y1="1264.84" x2="193.5" y2="1264.84" stroke-width="3" stroke-linecap="butt"/>
<text transform="translate(175 1272.04) scale(1 1.06)" font-size="20.4" font-weight="bold" text-anchor="end" stroke="#000" stroke-width="0.6" stroke-linejoin="round">8</text>
<line x1="184.9" y1="1342.78" x2="193.5" y2="1342.78" stroke-width="3" stroke-linecap="butt"/>
<text transform="translate(175 1349.98) scale(1 1.06)" font-size="20.4" font-weight="bold" text-anchor="end" stroke="#000" stroke-width="0.6" stroke-linejoin="round">6</text>
<line x1="184.9" y1="1420.72" x2="193.5" y2="1420.72" stroke-width="3" stroke-linecap="butt"/>
<text transform="translate(175 1427.92) scale(1 1.06)" font-size="20.4" font-weight="bold" text-anchor="end" stroke="#000" stroke-width="0.6" stroke-linejoin="round">4</text>
<line x1="184.9" y1="1498.66" x2="193.5" y2="1498.66" stroke-width="3" stroke-linecap="butt"/>
<text transform="translate(175 1505.86) scale(1 1.06)" font-size="20.4" font-weight="bold" text-anchor="end" stroke="#000" stroke-width="0.6" stroke-linejoin="round">2</text>
<line x1="184.9" y1="1576.6" x2="193.5" y2="1576.6" stroke-width="3" stroke-linecap="butt"/>
<text transform="translate(175 1583.8) scale(1 1.06)" font-size="20.4" font-weight="bold" text-anchor="end" stroke="#000" stroke-width="0.6" stroke-linejoin="round">0</text>
<text transform="translate(60 1388.4) rotate(-90) scale(1 1.06)" font-size="23" font-weight="bold" text-anchor="middle" textLength="286.6" lengthAdjust="spacingAndGlyphs" stroke="#000" stroke-width="0.6" stroke-linejoin="round">Visual-motor performance</text>
<text transform="translate(86.2 1387.8) rotate(-90)" font-size="23" font-weight="normal" text-anchor="middle" textLength="255.3" lengthAdjust="spacing" stroke="#000" stroke-width="1.3" stroke-linejoin="round">(number of TKT losses)</text>
<text transform="translate(130.2 1257) rotate(-90) scale(1 1.06)" font-size="22.7" font-weight="bold" text-anchor="middle" stroke="#000" stroke-width="0.6" stroke-linejoin="round">Worse</text>
<text transform="translate(130.2 1520.5) rotate(-90) scale(1 1.06)" font-size="22.7" font-weight="bold" text-anchor="middle" stroke="#000" stroke-width="0.6" stroke-linejoin="round">Better</text>
<line x1="247.1" y1="1466.8" x2="247.1" y2="1553.4" stroke-width="3" stroke-linecap="butt"/>
<line x1="240.5" y1="1466.8" x2="253.7" y2="1466.8" stroke-width="3" stroke-linecap="round"/>
<line x1="240.5" y1="1553.4" x2="253.7" y2="1553.4" stroke-width="3" stroke-linecap="round"/>
<circle cx="247.1" cy="1509.8" r="7.7" fill="#fff" stroke-width="2.7"/>
<line x1="461.9" y1="1401.4" x2="461.9" y2="1562.6" stroke-width="3" stroke-linecap="butt"/>
<line x1="455.3" y1="1401.4" x2="468.5" y2="1401.4" stroke-width="3" stroke-linecap="round"/>
<line x1="455.3" y1="1562.6" x2="468.5" y2="1562.6" stroke-width="3" stroke-linecap="round"/>
<circle cx="461.9" cy="1482.3" r="8.9" fill="#000" stroke="none"/>
<line x1="290.79" y1="1460.18" x2="408.33" y2="1342.81" stroke-width="3.8" stroke-linecap="butt"/>
<line x1="301.13" y1="1460.32" x2="408.38" y2="1420.95" stroke-width="3.8" stroke-linecap="butt"/>
<line x1="290.3" y1="1498.4" x2="408.3" y2="1498.4" stroke-width="3.8" stroke-linecap="butt"/>
<line x1="301.49" y1="1500.22" x2="408.38" y2="1459.9" stroke-width="3.8" stroke-linecap="butt"/>
<line x1="300.9" y1="1576.66" x2="408.3" y2="1576.2" stroke-width="3.8" stroke-linecap="butt"/>
<line x1="300.9" y1="1536.18" x2="408.3" y2="1535.83" stroke-width="3.8" stroke-linecap="butt"/>
<line x1="300.9" y1="1540.43" x2="397.5" y2="1539.83" stroke-width="3.8" stroke-linecap="butt"/>
<circle cx="408.3" cy="1342.78" r="8.6" fill="#000" stroke="none"/>
<circle cx="408.3" cy="1420.72" r="8.6" fill="#000" stroke="none"/>
<circle cx="408.3" cy="1459.69" r="8.6" fill="#000" stroke="none"/>
<circle cx="408.3" cy="1498.66" r="8.6" fill="#000" stroke="none"/>
<circle cx="408.3" cy="1537.63" r="8.6" fill="#000" stroke="none"/>
<circle cx="408.3" cy="1576.6" r="8.6" fill="#000" stroke="none"/>
<circle cx="397.5" cy="1537.63" r="8.6" fill="#000" stroke="none"/>
<circle cx="300.9" cy="1459.69" r="7.3" fill="#fff" stroke-width="2.7"/>
<circle cx="300.9" cy="1498.66" r="7.3" fill="#fff" stroke-width="2.7"/>
<circle cx="300.9" cy="1537.63" r="7.3" fill="#fff" stroke-width="2.7"/>
<circle cx="300.9" cy="1576.6" r="7.3" fill="#fff" stroke-width="2.7"/>
<circle cx="290.3" cy="1459.69" r="7.3" fill="#fff" stroke-width="2.7"/>
<circle cx="290.3" cy="1498.66" r="7.3" fill="#fff" stroke-width="2.7"/>
<circle cx="290.3" cy="1537.63" r="7.3" fill="#fff" stroke-width="2.7"/>
<line x1="569.1" y1="1417.9" x2="569.1" y2="1558.1" stroke-width="3" stroke-linecap="butt"/>
<line x1="562.5" y1="1417.9" x2="575.7" y2="1417.9" stroke-width="3" stroke-linecap="round"/>
<line x1="562.5" y1="1558.1" x2="575.7" y2="1558.1" stroke-width="3" stroke-linecap="round"/>
<circle cx="569.1" cy="1487.5" r="7.7" fill="#fff" stroke-width="2.7"/>
<line x1="783.9" y1="1417.9" x2="783.9" y2="1558.1" stroke-width="3" stroke-linecap="butt"/>
<line x1="777.3" y1="1417.9" x2="790.5" y2="1417.9" stroke-width="3" stroke-linecap="round"/>
<line x1="777.3" y1="1558.1" x2="790.5" y2="1558.1" stroke-width="3" stroke-linecap="round"/>
<circle cx="783.9" cy="1487.5" r="8.9" fill="#000" stroke="none"/>
<line x1="622.34" y1="1382.73" x2="729.78" y2="1421.86" stroke-width="3.8" stroke-linecap="butt"/>
<line x1="622.24" y1="1422.01" x2="729.97" y2="1460.33" stroke-width="3.8" stroke-linecap="butt"/>
<line x1="621.6" y1="1458.25" x2="726.91" y2="1377.46" stroke-width="3.8" stroke-linecap="butt"/>
<line x1="622.7" y1="1497.98" x2="730.19" y2="1497.36" stroke-width="3.8" stroke-linecap="butt"/>
<line x1="622.7" y1="1576.99" x2="730.2" y2="1576.23" stroke-width="3.8" stroke-linecap="butt"/>
<line x1="622.7" y1="1534.23" x2="730.2" y2="1533.53" stroke-width="3.8" stroke-linecap="butt"/>
<line x1="622.7" y1="1539.83" x2="719.3" y2="1539.43" stroke-width="3.8" stroke-linecap="butt"/>
<circle cx="730.2" cy="1381.75" r="8.6" fill="#000" stroke="none"/>
<circle cx="730.2" cy="1420.72" r="8.6" fill="#000" stroke="none"/>
<circle cx="730.2" cy="1459.69" r="8.6" fill="#000" stroke="none"/>
<circle cx="730.2" cy="1498.66" r="8.6" fill="#000" stroke="none"/>
<circle cx="730.2" cy="1537.63" r="8.6" fill="#000" stroke="none"/>
<circle cx="730.2" cy="1576.6" r="8.6" fill="#000" stroke="none"/>
<circle cx="719.3" cy="1537.63" r="8.6" fill="#000" stroke="none"/>
<circle cx="622.7" cy="1381.75" r="7.3" fill="#fff" stroke-width="2.7"/>
<circle cx="622.7" cy="1420.72" r="7.3" fill="#fff" stroke-width="2.7"/>
<circle cx="622.7" cy="1459.69" r="7.3" fill="#fff" stroke-width="2.7"/>
<circle cx="622.7" cy="1498.66" r="7.3" fill="#fff" stroke-width="2.7"/>
<circle cx="622.7" cy="1537.63" r="7.3" fill="#fff" stroke-width="2.7"/>
<circle cx="622.7" cy="1576.6" r="7.3" fill="#fff" stroke-width="2.7"/>
<circle cx="612.2" cy="1537.63" r="7.3" fill="#fff" stroke-width="2.7"/>
<line x1="891.3" y1="1445" x2="891.3" y2="1541.6" stroke-width="3" stroke-linecap="butt"/>
<line x1="884.7" y1="1445" x2="897.9" y2="1445" stroke-width="3" stroke-linecap="round"/>
<line x1="884.7" y1="1541.6" x2="897.9" y2="1541.6" stroke-width="3" stroke-linecap="round"/>
<circle cx="891.3" cy="1493.3" r="7.7" fill="#fff" stroke-width="2.7"/>
<line x1="1105.9" y1="1334.1" x2="1105.9" y2="1441.2" stroke-width="3" stroke-linecap="butt"/>
<line x1="1099.3" y1="1334.1" x2="1112.5" y2="1334.1" stroke-width="3" stroke-linecap="round"/>
<line x1="1099.3" y1="1441.2" x2="1112.5" y2="1441.2" stroke-width="3" stroke-linecap="round"/>
<circle cx="1105.9" cy="1387.4" r="8.9" fill="#000" stroke="none"/>
<line x1="943.31" y1="1418.97" x2="1040.19" y2="1342.02" stroke-width="3.8" stroke-linecap="butt"/>
<line x1="932.75" y1="1458.8" x2="1051.82" y2="1303.67" stroke-width="3.8" stroke-linecap="butt"/>
<line x1="945.09" y1="1460.07" x2="1055.73" y2="1346.41" stroke-width="3.8" stroke-linecap="butt"/>
<line x1="931.86" y1="1495.37" x2="1052.15" y2="1420.96" stroke-width="3.8" stroke-linecap="butt"/>
<line x1="943.79" y1="1497.83" x2="1050.91" y2="1380.76" stroke-width="3.8" stroke-linecap="butt"/>
<line x1="944.6" y1="1537.51" x2="1039.87" y2="1458.57" stroke-width="3.8" stroke-linecap="butt"/>
<line x1="946.3" y1="1578.04" x2="1052.28" y2="1459.94" stroke-width="3.8" stroke-linecap="butt"/>
<circle cx="1052" cy="1303.81" r="8.6" fill="#000" stroke="none"/>
<circle cx="1052" cy="1342.78" r="8.6" fill="#000" stroke="none"/>
<circle cx="1052" cy="1381.75" r="8.6" fill="#000" stroke="none"/>
<circle cx="1052" cy="1420.72" r="8.6" fill="#000" stroke="none"/>
<circle cx="1052" cy="1459.69" r="8.6" fill="#000" stroke="none"/>
<circle cx="1040.8" cy="1342.78" r="8.6" fill="#000" stroke="none"/>
<circle cx="1040.8" cy="1459.69" r="8.6" fill="#000" stroke="none"/>
<circle cx="944.7" cy="1420.72" r="7.3" fill="#fff" stroke-width="2.7"/>
<circle cx="944.7" cy="1537.63" r="7.3" fill="#fff" stroke-width="2.7"/>
<circle cx="944.7" cy="1576.6" r="7.3" fill="#fff" stroke-width="2.7"/>
<circle cx="944.7" cy="1459.69" r="7.3" fill="#fff" stroke-width="2.7"/>
<circle cx="933.9" cy="1459.69" r="7.3" fill="#fff" stroke-width="2.7"/>
<circle cx="933.9" cy="1498.66" r="7.3" fill="#fff" stroke-width="2.7"/>
<circle cx="944.7" cy="1498.66" r="7.3" fill="#fff" stroke-width="2.7"/>
<text transform="translate(1104.9 1329.5) scale(1 1.06)" font-size="31" font-weight="bold" text-anchor="middle" stroke="#000" stroke-width="0.3" stroke-linejoin="round">*</text>
<line x1="1213.3" y1="1415.3" x2="1213.3" y2="1549.2" stroke-width="3" stroke-linecap="butt"/>
<line x1="1206.7" y1="1415.3" x2="1219.9" y2="1415.3" stroke-width="3" stroke-linecap="round"/>
<line x1="1206.7" y1="1549.2" x2="1219.9" y2="1549.2" stroke-width="3" stroke-linecap="round"/>
<circle cx="1213.3" cy="1482.2" r="7.7" fill="#fff" stroke-width="2.7"/>
<line x1="1427.8" y1="1234.3" x2="1427.8" y2="1351.5" stroke-width="3" stroke-linecap="butt"/>
<line x1="1421.2" y1="1234.3" x2="1434.4" y2="1234.3" stroke-width="3" stroke-linecap="round"/>
<line x1="1421.2" y1="1351.5" x2="1434.4" y2="1351.5" stroke-width="3" stroke-linecap="round"/>
<circle cx="1427.8" cy="1292.7" r="8.9" fill="#000" stroke="none"/>
<line x1="1268.31" y1="1383.98" x2="1373.49" y2="1303.15" stroke-width="3.8" stroke-linecap="butt"/>
<line x1="1270.83" y1="1423.46" x2="1373.68" y2="1264.63" stroke-width="3.8" stroke-linecap="butt"/>
<line x1="1266.97" y1="1459.98" x2="1360.95" y2="1341.16" stroke-width="3.8" stroke-linecap="butt"/>
<line x1="1257.5" y1="1499.24" x2="1371.47" y2="1185.98" stroke-width="3.8" stroke-linecap="butt"/>
<line x1="1269.93" y1="1500.92" x2="1376.33" y2="1344.36" stroke-width="3.8" stroke-linecap="butt"/>
<line x1="1270.47" y1="1538.9" x2="1373.06" y2="1225.56" stroke-width="3.8" stroke-linecap="butt"/>
<line x1="1266.18" y1="1576.37" x2="1372.61" y2="1380.99" stroke-width="3.8" stroke-linecap="butt"/>
<circle cx="1374" cy="1186.9" r="8.6" fill="#000" stroke="none"/>
<circle cx="1374" cy="1225.87" r="8.6" fill="#000" stroke="none"/>
<circle cx="1374" cy="1264.84" r="8.6" fill="#000" stroke="none"/>
<circle cx="1374" cy="1303.81" r="8.6" fill="#000" stroke="none"/>
<circle cx="1374" cy="1342.78" r="8.6" fill="#000" stroke="none"/>
<circle cx="1374" cy="1381.75" r="8.6" fill="#000" stroke="none"/>
<circle cx="1363" cy="1342.78" r="8.6" fill="#000" stroke="none"/>
<circle cx="1266.6" cy="1381.75" r="7.3" fill="#fff" stroke-width="2.7"/>
<circle cx="1266.6" cy="1420.72" r="7.3" fill="#fff" stroke-width="2.7"/>
<circle cx="1266.6" cy="1459.69" r="7.3" fill="#fff" stroke-width="2.7"/>
<circle cx="1266.6" cy="1498.66" r="7.3" fill="#fff" stroke-width="2.7"/>
<circle cx="1266.6" cy="1537.63" r="7.3" fill="#fff" stroke-width="2.7"/>
<circle cx="1266.6" cy="1576.6" r="7.3" fill="#fff" stroke-width="2.7"/>
<circle cx="1255.9" cy="1498.66" r="7.3" fill="#fff" stroke-width="2.7"/>
<text transform="translate(1427.3 1230) scale(1 1.06)" font-size="31" font-weight="bold" text-anchor="middle" stroke="#000" stroke-width="0.3" stroke-linejoin="round">*</text>
<text transform="translate(303 1613.7) scale(1 1.06)" font-size="22.7" font-weight="bold" text-anchor="middle" stroke="#000" stroke-width="0.6" stroke-linejoin="round">A</text>
<text transform="translate(408.3 1613.7) scale(1 1.06)" font-size="22.7" font-weight="bold" text-anchor="middle" stroke="#000" stroke-width="0.6" stroke-linejoin="round">M</text>
<text transform="translate(618 1613.7) scale(1 1.06)" font-size="22.7" font-weight="bold" text-anchor="middle" stroke="#000" stroke-width="0.6" stroke-linejoin="round">A</text>
<text transform="translate(724.8 1613.7) scale(1 1.06)" font-size="22.7" font-weight="bold" text-anchor="middle" stroke="#000" stroke-width="0.6" stroke-linejoin="round">M</text>
<text transform="translate(939.4 1613.7) scale(1 1.06)" font-size="22.7" font-weight="bold" text-anchor="middle" stroke="#000" stroke-width="0.6" stroke-linejoin="round">A</text>
<text transform="translate(1041.5 1613.7) scale(1 1.06)" font-size="22.7" font-weight="bold" text-anchor="middle" stroke="#000" stroke-width="0.6" stroke-linejoin="round">M</text>
<text transform="translate(1264.9 1613.7) scale(1 1.06)" font-size="22.7" font-weight="bold" text-anchor="middle" stroke="#000" stroke-width="0.6" stroke-linejoin="round">A</text>
<text transform="translate(1366.3 1613.7) scale(1 1.06)" font-size="22.7" font-weight="bold" text-anchor="middle" stroke="#000" stroke-width="0.6" stroke-linejoin="round">M</text>
<text transform="translate(352 1642.8) scale(1 1.06)" font-size="22.7" font-weight="bold" text-anchor="middle" stroke="#000" stroke-width="0.6" stroke-linejoin="round">5</text>
<text transform="translate(672.7 1642.8) scale(1 1.06)" font-size="22.7" font-weight="bold" text-anchor="middle" stroke="#000" stroke-width="0.6" stroke-linejoin="round">7</text>
<text transform="translate(990.7 1642.8) scale(1 1.06)" font-size="22.7" font-weight="bold" text-anchor="middle" stroke="#000" stroke-width="0.6" stroke-linejoin="round">9</text>
<text transform="translate(1315.2 1642.8) scale(1 1.06)" font-size="22.7" font-weight="bold" text-anchor="middle" stroke="#000" stroke-width="0.6" stroke-linejoin="round">11</text>
<text transform="translate(840.8 1676.6) scale(1 1.06)" font-size="23.4" font-weight="bold" text-anchor="middle" textLength="368.5" lengthAdjust="spacingAndGlyphs" stroke="#000" stroke-width="0.6" stroke-linejoin="round">Time since scheduled wake (h)</text>
</svg>
</body>
</html>
